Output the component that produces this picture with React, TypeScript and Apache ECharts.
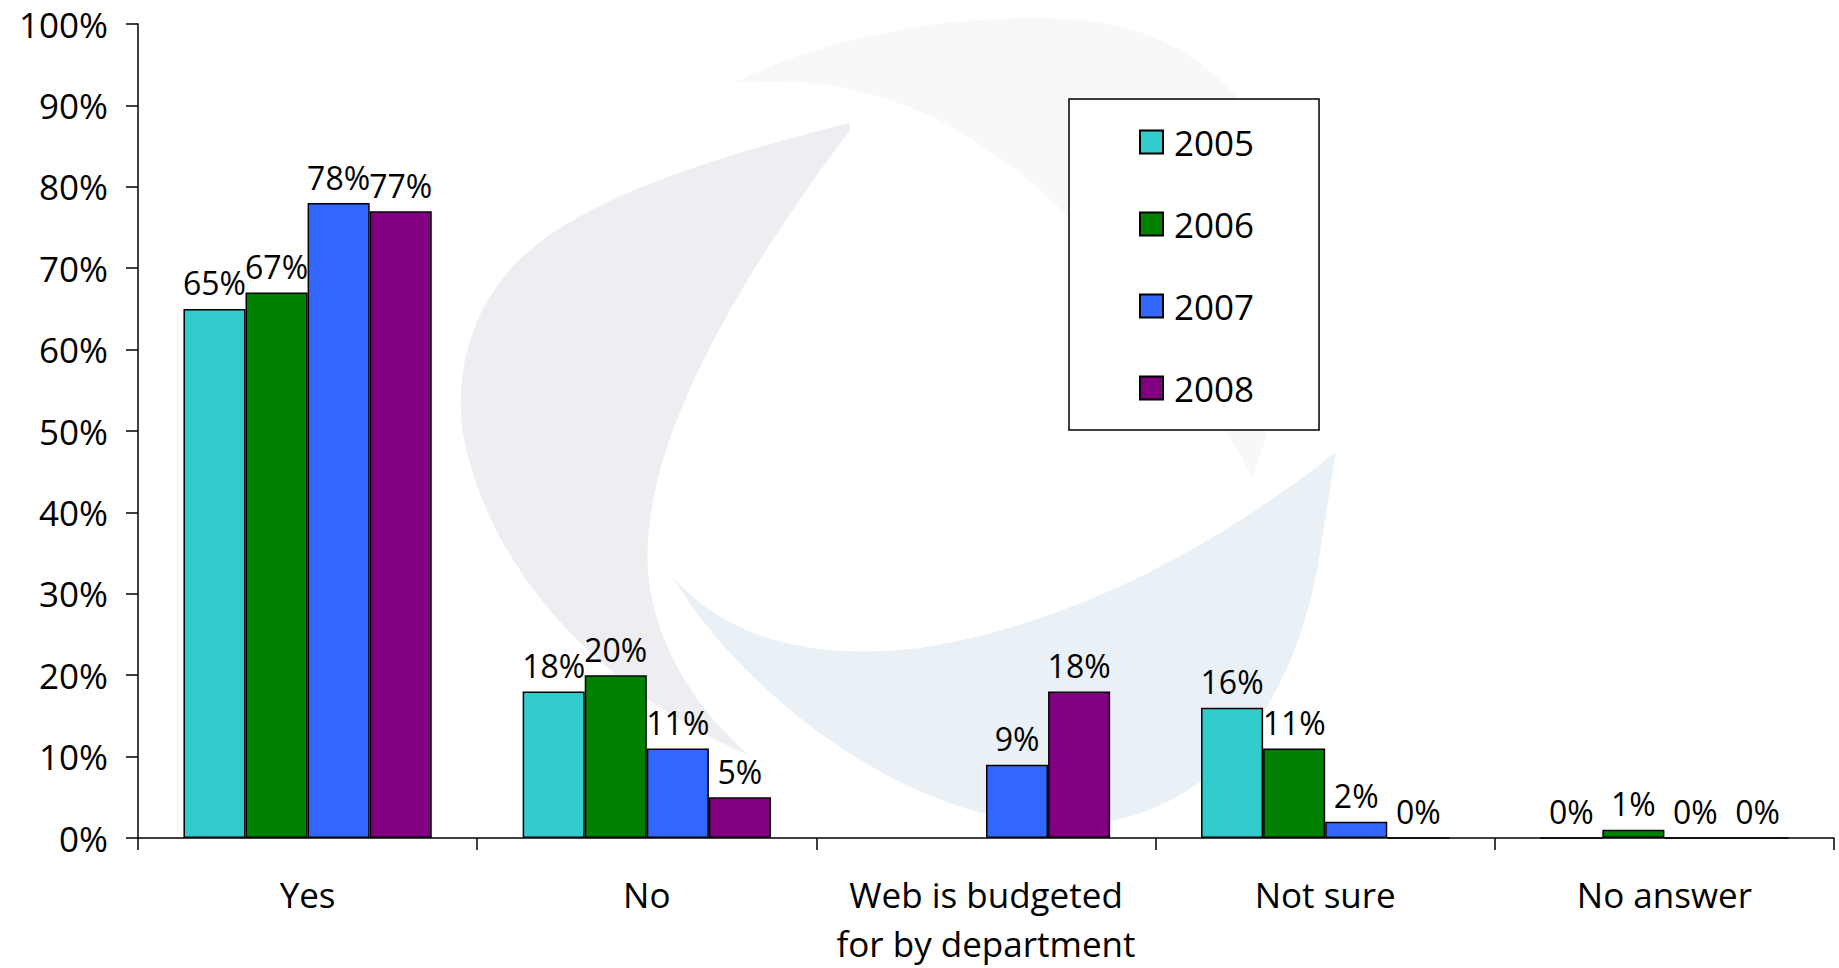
import React, { useEffect, useRef } from "react";
import * as echarts from "echarts";

const categories = ["Yes", "No", "Web is budgeted\nfor by department", "Not sure", "No answer"];
const years = ["2005", "2006", "2007", "2008"];
const values2005: (number | null)[] = [65, 18, null, 16, 0];
const values2006: (number | null)[] = [67, 20, null, 11, 1];
const values2007: (number | null)[] = [78, 11, 9, 2, 0];
const values2008: (number | null)[] = [77, 5, 18, 0, 0];
const yTicks = { min: 0, max: 100, interval: 10 };

const colors = ["#33CCCC", "#008000", "#3366FF", "#800080"];
const FONT = '"Open Sans", "DejaVu Sans", sans-serif';

const wmLeft =
  "M 850 123 C 740 150 600 190 530 250 C 460 310 448 400 472 470 C 505 580 600 690 750 756 C 685 700 642 620 648 540 C 655 430 730 290 850 130 Z";
const wmBottom =
  "M 672 576 C 740 690 900 820 1060 825 C 1200 828 1290 720 1318 565 L 1336 452 C 1250 520 1100 620 920 648 C 800 662 720 632 672 576 Z";
const wmTop =
  "M 733 83 C 820 40 950 10 1080 20 C 1200 30 1290 120 1292 250 C 1292 350 1272 430 1252 477 C 1200 380 1120 260 1040 190 C 950 110 850 72 733 83 Z";

let registered = false;
function registerShapes() {
  if (registered) return;
  registered = true;
  echarts.graphic.registerShape("wmLeft", echarts.graphic.extendPath(wmLeft, {}) as any);
  echarts.graphic.registerShape("wmBottom", echarts.graphic.extendPath(wmBottom, {}) as any);
  echarts.graphic.registerShape("wmTop", echarts.graphic.extendPath(wmTop, {}) as any);
}

export default function App() {
  const ref = useRef<HTMLDivElement>(null);
  useEffect(() => {
    if (!ref.current) return;
    registerShapes();
    const chart = echarts.init(ref.current, undefined, { renderer: "svg" });
    const seriesData = [values2005, values2006, values2007, values2008];
    chart.setOption({
      animation: false,
      backgroundColor: "#ffffff",
      textStyle: { fontFamily: FONT },
      graphic: [
        { type: "wmTop", x: 0, y: 0, z: -10, silent: true, style: { fill: "#F8F7FA" } },
        { type: "wmLeft", x: 0, y: 0, z: -10, silent: true, style: { fill: "#EEEDF2" } },
        { type: "wmBottom", x: 0, y: 0, z: -10, silent: true, style: { fill: "#E9F1F7" } },
      ],
      grid: { left: 138, right: 5, top: 24, bottom: 130, containLabel: false },
      legend: {
        orient: "vertical",
        left: 1069,
        top: 99,
        backgroundColor: "#ffffff",
        borderColor: "#000000",
        borderWidth: 1.5,
        padding: [23, 65, 22, 70],
        itemWidth: 23,
        itemHeight: 23,
        itemGap: 42,
        icon: "rect",
        data: years,
        textStyle: { fontFamily: FONT, fontSize: 35, lineHeight: 40, color: "#000", padding: [0, 0, 0, 6] },
      },
      xAxis: {
        type: "category",
        data: categories,
        axisLine: { lineStyle: { color: "#000", width: 1.5 } },
        axisTick: { show: true, length: 12, lineStyle: { color: "#000", width: 1.5 } },
        axisLabel: { fontFamily: FONT, fontSize: 35, lineHeight: 49, color: "#000", margin: 32, interval: 0 },
        splitLine: { show: false },
      },
      yAxis: {
        type: "value",
        min: yTicks.min,
        max: yTicks.max,
        interval: yTicks.interval,
        axisLine: { show: true, lineStyle: { color: "#000", width: 1.5 } },
        axisTick: { show: true, length: 12, lineStyle: { color: "#000", width: 1.5 } },
        axisLabel: { fontFamily: FONT, fontSize: 35, lineHeight: 32, color: "#000", margin: 30, formatter: "{value}%" },
        splitLine: { show: false },
      },
      series: years.map((y, i) => ({
        name: y,
        type: "bar",
        data: seriesData[i].map((v) => (v === null ? "-" : v)),
        barGap: "0%",
        barCategoryGap: "26.8%",
        itemStyle: { color: colors[i], borderColor: "#000", borderWidth: 1.5 },
        label: {
          show: true,
          position: "top",
          distance: 10,
          fontFamily: FONT,
          fontSize: 32,
          color: "#000",
          formatter: "{c}%",
        },
      })),
    });
    return () => chart.dispose();
  }, []);
  return (
    <div
      ref={ref}
      style={{ position: "fixed", left: 0, top: 0, width: 1839, height: 968 }}
    />
  );
}
